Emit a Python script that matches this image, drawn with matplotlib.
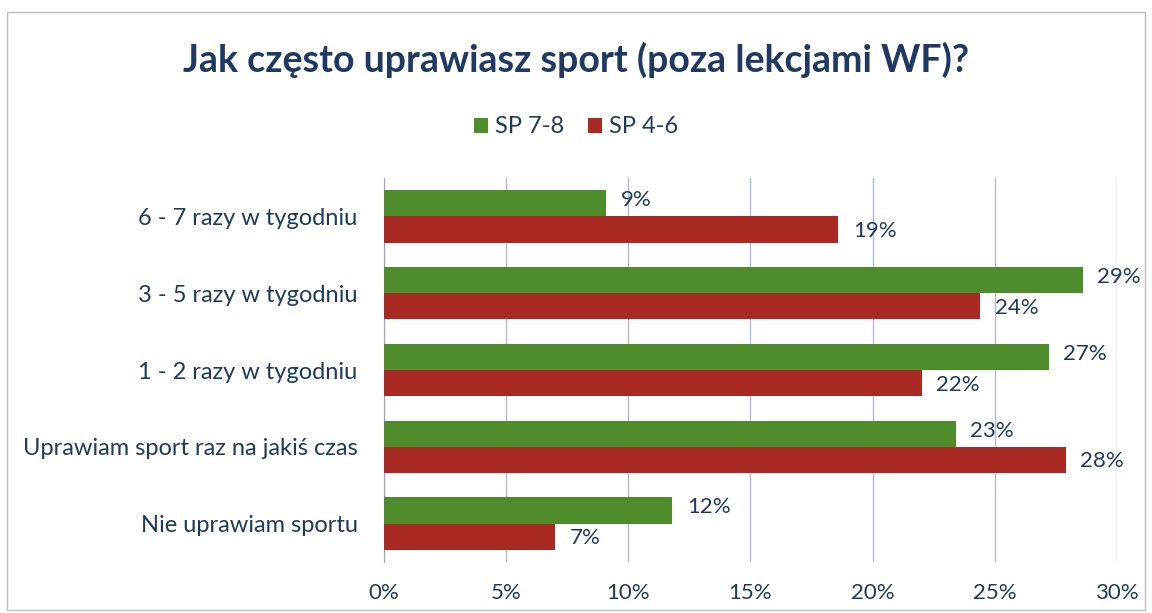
import matplotlib.pyplot as plt
from matplotlib.patches import Rectangle

# dane (procenty)
kategorie = ['6 - 7 razy w tygodniu', '3 - 5 razy w tygodniu', '1 - 2 razy w tygodniu',
             'Uprawiam sport raz na jakiś czas', 'Nie uprawiam sportu']
sp78 = [9.1, 28.6, 27.2, 23.4, 11.8]
sp46 = [18.6, 24.4, 22.0, 27.9, 7.0]
etykiety78 = ['9%', '29%', '27%', '23%', '12%']
etykiety46 = ['19%', '24%', '22%', '28%', '7%']
ticki = [0, 5, 10, 15, 20, 25, 30]

plt.rcParams['font.family'] = ['Lato', 'DejaVu Sans']
kolor_tekstu = '#1F3A5F'
zielony = '#4E8C2C'
czerwony = '#A92A23'

fig = plt.figure(figsize=(11.52, 6.13), dpi=100)
ax = fig.add_axes([0.3333, 0.0832, 0.6363, 0.6264])

y = list(range(len(kategorie)))
h = 0.34
y_g = [i - h / 2 for i in y]
y_r = [i + h / 2 for i in y]
ax.barh(y_g, sp78, height=h, color=zielony, label='SP 7-8', zorder=3)
ax.barh(y_r, sp46, height=h, color=czerwony, label='SP 4-6', zorder=3)

for yy, v, t in zip(y_g, sp78, etykiety78):
    ax.text(v + 0.6, yy - 0.04, t, va='center', ha='left', fontsize=16, color=kolor_tekstu)
for yy, v, t in zip(y_r, sp46, etykiety46):
    ax.text(v + 0.6, yy + 0.02, t, va='center', ha='left', fontsize=16, color=kolor_tekstu)

ax.set_xlim(0, 30)
ax.set_ylim(len(kategorie) - 0.5, -0.5)
ax.set_xticks(ticki)
ax.set_xticklabels([f'{t}%' for t in ticki], fontsize=16, color=kolor_tekstu)
ax.set_yticks(y)
ax.set_yticklabels(kategorie, fontsize=17, color=kolor_tekstu)
ax.tick_params(axis='both', length=0)
ax.tick_params(axis='x', pad=15)
ax.tick_params(axis='y', pad=19)
ax.grid(axis='x', color='#AFBDD3', linewidth=1, zorder=0)
for s in ['top', 'right', 'bottom']:
    ax.spines[s].set_visible(False)
ax.spines['left'].set_color('#9AA8BE')

fig.text(0.5, 0.903, 'Jak często uprawiasz sport (poza lekcjami WF)?', ha='center', va='center',
         fontsize=27, fontweight='bold', color='#1F3864')
fig.legend(loc='center', bbox_to_anchor=(0.5, 0.793), ncol=2, frameon=False, fontsize=17,
           handlelength=0.6, handleheight=0.6, handletextpad=0.3, columnspacing=1.0,
           labelcolor=kolor_tekstu)

# ramka wykresu
fig.patches.append(Rectangle((0.006, 0.005), 0.988, 0.975, transform=fig.transFigure,
                             fill=False, edgecolor='#BFBFBF', linewidth=1))

fig.savefig('out.png', dpi=100)
